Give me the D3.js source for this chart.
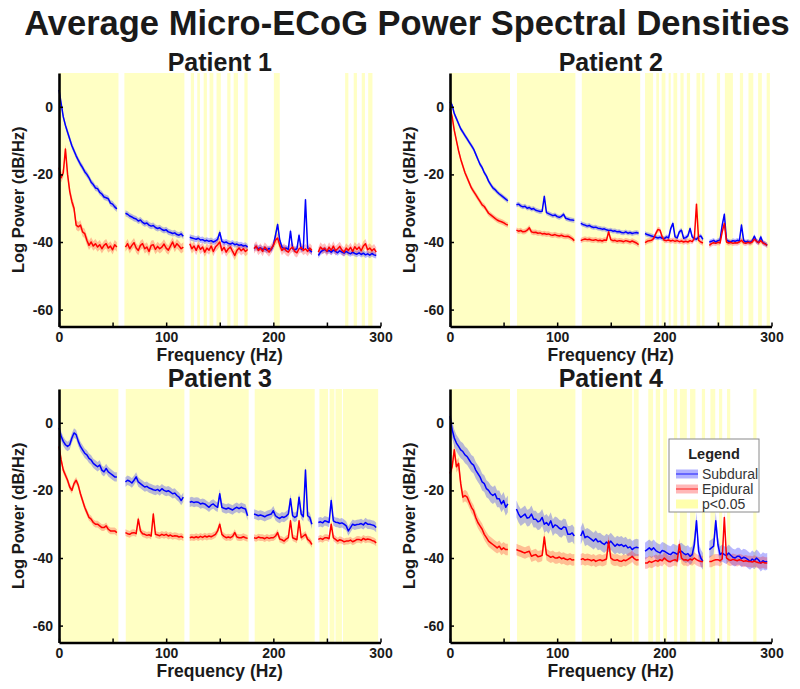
<!DOCTYPE html>
<html><head><meta charset="utf-8">
<script src="https://cdn.jsdelivr.net/npm/d3@7"></script>
<style>body{margin:0;background:#fff}svg{display:block;font-family:"Liberation Sans",Arial,sans-serif}</style>
</head><body><svg id="c" width="800" height="689"></svg>
<script>
// ---------------- DATA ----------------
const freqs = [0,2,4,6,8,10,12,14,16,18,20,22,24,26,28,30,32,34,36,38,40,42,44,46,48,50,52,54,56,58,
60,62,64,66,68,70,72,74,76,78,80,82,84,86,88,90,92,94,96,98,100,102,104,106,108,110,112,114,116,118,
120,122,124,126,128,130,132,134,136,138,140,142,144,146,148,150,152,154,156,158,160,162,164,166,168,170,172,174,176,178,
180,182,184,186,188,190,192,194,196,198,200,202,204,206,208,210,212,214,216,218,220,222,224,226,228,230,232,234,236,238,
240,242,244,246,248,250,252,254,256,258,260,262,264,266,268,270,272,274,276,278,280,282,284,286,288,290,292,294,296,298];

const titles = ["Patient 1","Patient 2","Patient 3","Patient 4"];

const sub1 = [5,1,-3,-5.5,-7.5,-9.5,-11.5,-13,-14.5,-15.8,-17,-18,-19.2,-20,-21,-22.3,-23,-24,-24.2,-25.3,-25.8,-26.7,-26.9,-27.2,-28.5,-28.8,-29.6,-30.2,
null,null,null,
-31.5,-31.8,-32.3,-32.6,-33,-33.2,-33.8,-33.5,-34.2,-34.6,-34.4,-35,-35.3,-35.1,-35.7,-36,-35.8,-36.3,-36.6,-36.4,-37,-37.2,-37.5,-37.3,-37.8,-38,-37.6,-38.3,
null,null,
-38.6,-38.8,-39,-39.2,-38.9,-39.4,-39.3,-39.7,-39.5,-39.8,-39.6,-40,-39.7,-39.2,-37.2,-39.8,-40.2,-40,-40.4,-40.6,-40.3,-40.8,-40.6,-41,-40.8,-41.2,-41,-41.5,
null,null,
-41.8,-41.5,-42,-41.7,-42.2,-42,-42.4,-41.9,-42.3,-41,-38,-34.8,-39.5,-41.5,-42,-41.8,-42.2,-36.8,-42,-42.3,-42,-38,-42.2,-42,-27.5,-41.8,-42.5,-43,
null,null,
-44,-43,-42.5,-42.2,-42.8,-42.5,-43,-42.4,-42.8,-43.2,-42.6,-43,-43.3,-42.8,-43.2,-43.5,-43,-43.4,-43.6,-43.2,-43.7,-43.3,-43.8,-43.5,-43.9,-43.4,-43.8,-44,
null];
const epi1 = [-18,-21,-19.5,-12.5,-20,-25,-28,-30,-35,-35.5,-35,-37,-37.5,-39.5,-41,-40,-41.2,-40.5,-41.5,-40.8,-42,-41,-40.5,-41.8,-41.2,-42.3,-40.8,-41.5,
null,null,null,
-41.5,-40.5,-42,-41,-40.2,-41.8,-42.5,-41,-40.5,-42,-41.5,-42.8,-41,-40.8,-42.2,-41.3,-42,-41.5,-40.6,-41.8,-42.4,-41.2,-40,-41.6,-40.5,-41.2,-42,-41.5,
null,null,
-40.5,-42,-41.2,-42.5,-41,-42.2,-41.5,-43,-41.8,-42.4,-41.2,-42.8,-41.5,-40.8,-40,-42.5,-41.6,-43,-42,-41.5,-42.8,-44,-42.5,-41.8,-42.6,-42,-42.8,-42.2,
null,null,
-42,-41.2,-42.5,-41.8,-42.8,-41.5,-42.2,-43,-42,-41,-39.5,-38.8,-41,-42.5,-41.8,-42.6,-43,-42,-41.5,-42.8,-43.2,-42,-41.6,-42.5,-42,-42.8,-41.8,-42.5,
null,null,
-43,-41.5,-42.2,-41.8,-42.8,-41.5,-42.5,-41.2,-42.6,-42,-41.3,-42.4,-43,-41.8,-42.5,-41.6,-42.8,-41.4,-42.2,-41.5,-42.6,-41.2,-40.5,-42.3,-41.8,-42.6,-42,-43,
null];

const sub2 = [1.5,0.5,-2,-3.5,-5,-6.5,-7.5,-8.5,-9.5,-10.5,-11.5,-12.5,-14,-15.5,-17,-18,-19.5,-20.5,-22,-23,-24,-24.5,-25.2,-25.8,-26.3,-26.8,-27.3,-27.8,
null,null,null,
-29,-28.8,-29.3,-29.6,-29.4,-30,-29.8,-30.3,-30.1,-30.6,-30.8,-31,-30.9,-26.5,-31.3,-31.6,-31.9,-32.2,-32,-32.5,-32.7,-32.4,-31.8,-33,-33.2,-33.4,-33.5,-33.6,
null,null,
-34.5,-34.8,-35,-35.3,-35.1,-35.5,-35.7,-35.6,-35.9,-36,-36.2,-36.1,-36.4,-36.6,-36.5,-36.8,-36.7,-37,-36.9,-37.2,-37.3,-37,-37.4,-37.2,-37.5,-37.3,-37.2,-37.4,
null,null,
-37.5,-37.8,-38,-38.2,-38.4,-38.6,-38.8,-38.6,-38.9,-39,-38.5,-38.8,-36,-34.5,-38.5,-38.8,-37,-36.5,-38.9,-38.7,-38.2,-36,-38.5,-39,-39.2,-38.5,-38.2,-39.2,
null,null,
-40,-39.8,-39.5,-40,-39.6,-39.4,-35,-31.8,-39.4,-39.8,-40,-39.6,-39.8,-39.5,-39.7,-35,-39.6,-40,-39.8,-40.1,-39.7,-38.3,-39.8,-40.2,-38.5,-40.2,-40.5,-41,
null];
const epi2 = [-0.5,-3,-7,-10,-13,-15.5,-17.5,-19.5,-21,-22.5,-24,-25,-26,-27,-28,-29,-29.5,-30.5,-31.5,-32,-32.5,-33,-33.5,-33.8,-34,-34.3,-34.7,-35,
null,null,null,
-36.5,-36.8,-36.6,-37,-36.9,-36.5,-35.8,-37,-37.2,-37.1,-37.4,-37.3,-37.6,-37.5,-37.7,-37.6,-37.9,-38,-37.8,-38.1,-38.2,-38,-38.3,-38.4,-38.3,-38.6,-39,-39.6,
null,null,
-39.6,-39.3,-39.1,-39.3,-39.2,-39.4,-39.5,-39.3,-39.6,-39.5,-39.7,-39.4,-39.5,-37,-39.3,-39.6,-39.5,-39.8,-39.6,-39.7,-39.9,-39.6,-39.8,-40,-39.7,-40,-40.3,-40.8,
null,null,
-40.2,-39.8,-39.6,-39.5,-39,-37.5,-36.3,-36.5,-38.5,-39.5,-39.6,-39.4,-39.7,-39.5,-39.8,-39.6,-39.9,-39.7,-40,-39.8,-40,-39.6,-39.9,-39,-28.8,-39.5,-40,-40.3,
null,null,
-41,-40.5,-40.2,-40.4,-40.1,-40.3,-37,-34.5,-40,-40.3,-40.1,-40.4,-40.2,-40.3,-40,-39.5,-40.2,-40.4,-40.1,-40.3,-40,-39.2,-39.8,-40.2,-39.6,-40.3,-40.6,-41,
null];

const sub3 = [-1.5,-4,-5.5,-6.5,-7,-6.5,-4.5,-3,-3.5,-5.5,-7,-8,-9,-9.5,-10.5,-11,-12,-12.5,-13,-12.5,-14,-14.5,-13.5,-14.5,-15,-15.5,-16,-16,
null,null,null,
-17.5,-17,-17.3,-17.8,-17,-16,-17.5,-18,-18.5,-19,-18.8,-19.3,-19.5,-19.8,-20,-19.7,-20.2,-19.5,-20,-20.3,-20.1,-20.5,-21,-20.8,-21.5,-22,-23,-22,
null,null,
-23.5,-23.3,-23.6,-23.4,-23.5,-24,-23.8,-24,-24.5,-25,-24.3,-24,-24.6,-25,-21,-25,-25.3,-25.5,-25.2,-25.5,-25.8,-25.3,-25,-25.4,-25,-25.3,-25.5,-27.5,
null,null,
-27,-27.2,-27.5,-27.3,-27.5,-27.8,-27.4,-27.2,-27,-26,-27.5,-28,-28.3,-27.8,-28,-27.6,-27,-22.5,-27.5,-28,-27.6,-22,-27,-27.8,-14,-27.5,-28,-30,
null,null,
-29.5,-29.3,-29.6,-29,-29.2,-29.5,-23,-29,-29.4,-29.5,-29.8,-29.6,-30,-30.5,-32,-31,-30,-30.3,-30.1,-30,-29.8,-30.2,-29.5,-30,-30,-30.2,-30.4,-31,
null];
const epi3 = [-7,-11,-14,-15.5,-17,-19,-20,-18,-17,-18.5,-21,-23,-25,-26.5,-28,-28.5,-29.5,-30,-30,-30.5,-31,-31,-30.5,-31.5,-32,-32,-32,-32.5,
null,null,null,
-32.5,-32.8,-33,-32.6,-32.5,-32.8,-28.5,-32,-32.8,-33,-33.3,-33.1,-33.5,-27,-33,-33.2,-33.4,-33,-33.3,-33,-33.5,-33.2,-33.6,-33.4,-33.5,-33.8,-33.6,-34,
null,null,
-34,-33.8,-34,-33.7,-34,-33.6,-33.9,-33.5,-33.8,-33.5,-33.7,-33.4,-33,-32,-30,-33,-33.6,-34,-33.8,-34,-33.6,-32.5,-33.8,-34,-34,-33.7,-34,-34.2,
null,null,
-34,-34.2,-33.8,-34,-34,-34.3,-33.9,-34.2,-34,-34,-33.5,-32.5,-34.4,-34.6,-35,-34.4,-34,-29,-34,-34.3,-34.6,-29,-34,-33.5,-33,-34.5,-35,-36,
null,null,
-34.5,-34.2,-34.5,-34,-34,-34.3,-30,-34,-34.5,-35,-34.6,-34.8,-35.2,-35,-35,-34.7,-35.2,-34.9,-34.5,-34.5,-34.8,-34.2,-34.6,-34.4,-34.5,-34.8,-35,-35.5,
null];

const sub4 = [2,-2,-4.5,-6,-7,-8,-8.5,-9.5,-10,-11,-12,-12.5,-14,-15,-16,-17.5,-18,-19.5,-20,-21,-21.5,-21,-22.5,-22.5,-24,-23,-25,-24,
null,null,null,
-25.5,-27,-28,-27.5,-27,-28.2,-28,-27,-28.5,-28.5,-29.3,-29,-28,-30,-29.5,-30.3,-29,-31,-30.2,-30.5,-31.2,-31.5,-30.8,-31,-33,-33,-32.6,-33.5,
null,null,
-33.5,-32,-34,-33.6,-34,-34.5,-35,-34.3,-35.2,-35,-35.6,-36,-35.3,-35.8,-35,-35.8,-36.5,-35.9,-36.3,-36,-36.6,-36.2,-37,-36.7,-37.5,-37,-36.8,-37,
null,null,
-38,-37.5,-37,-37.6,-37,-37.8,-38.2,-38.5,-37.8,-38,-38.4,-38.8,-39,-38.3,-38.5,-38.9,-38.2,-38,-38.6,-39,-38.7,-39.5,-39,-36,-29,-38,-40,-41,
null,null,
-37.5,-37,-36.5,-29,-36,-39,-38.5,-39,-39.3,-38.5,-39.2,-39.8,-40,-39.5,-39.5,-40.2,-39.8,-40,-40.5,-41,-40.3,-40.8,-40,-40.6,-41.5,-40.8,-41.2,-41,
null];
const epi4 = [-15,-13,-8,-13,-12,-18,-22,-21.5,-22,-23.5,-25,-26,-28,-29.5,-30.5,-31.5,-33,-34,-35,-35.5,-36,-36.5,-37,-36.5,-37.5,-37,-37.5,-37.5,
null,null,null,
-37.5,-37.8,-38,-38.3,-38.5,-38.2,-38,-39.5,-39.2,-39,-39.6,-39.5,-39.2,-33.8,-39,-39.4,-39.8,-39.5,-40,-40,-39.7,-40.2,-40,-40.4,-40.5,-40.2,-40.6,-40.5,
null,null,
-40.5,-40.2,-40.6,-40.4,-40.5,-40.8,-40.5,-41,-40.7,-40.5,-40.8,-40.6,-40.3,-35,-40,-40.5,-40.7,-40.5,-40.9,-41,-40.6,-40.8,-40.4,-40,-39.5,-40.2,-40.6,-40.5,
null,null,
-41.5,-41.5,-41,-41.3,-41,-40.7,-41,-40.5,-40.8,-40,-40.6,-41,-41,-40.7,-40.5,-40.9,-36,-40,-40.6,-40.5,-40.8,-40.3,-40.6,-40,-40.5,-40.8,-41,-41,
null,null,
-41,-41,-40.7,-40.5,-40.5,-40.8,-40.3,-28,-40,-40.5,-40.7,-40.4,-40.6,-40.8,-40.5,-40.7,-41,-40.8,-41,-41,-41.2,-40.9,-41.2,-41.4,-41.5,-41.2,-41.5,-41.5,
null];

// confidence half-widths (dB)
const ciSub = [0.9, 0.7, 1.4, 2.5];
const ciEpi = [1.4, 0.8, 1.0, 1.7];

// p<0.05 frequency intervals (Hz)
const sig1 = [[0,55.5],[61,117],[123,126],[129,131.5],[135,138],[140.5,144],[147,151],[157,160],[163,167],[173,176],[200.5,206],[267,270],[275,278],[282.5,285.5],[288.5,292.5]];
const sig2 = [[0,56],[62.5,117],[123,177.5],[182,189.5],[192.5,195],[197.5,201],[204,206],[208.5,212],[215,218],[221,224],[230,233.5],[235,237.5],[249,252],[256.5,264],[270.5,273.5],[278.5,283],[287.5,291],[295.5,298.5]];
const sig3 = [[0,55.4],[62.3,117],[121.8,177],[182.6,238.6],[243,251],[252.5,257],[258,264],[265,297.8]];
const sig4 = [[0,56],[62.5,117],[123,170],[171.5,176],[185,189.5],[192,196],[199,202.5],[209,212],[214.5,221],[224,229],[235,238],[243,247.5],[251,254],[258.5,261.5],[283,286]];

const xTicks = [0,50,100,150,200,250,300];
const xTickLabels = [0,100,200,300];
const yTicks = [0,-20,-40,-60];
const legendLabels = ["Subdural","Epidural","p<0.05"];
const mainTitle = "Average Micro-ECoG Power Spectral Densities";

// ---------------- DRAW ----------------
const subs = [sub1,sub2,sub3,sub4];
const epis = [epi1,epi2,epi3,epi4];
const sigs = [sig1,sig2,sig3,sig4];
const boxes = [
  {x0:59,  x1:380.5, y0:73,  y1:326.5},
  {x0:450, x1:771.5, y0:73,  y1:326.5},
  {x0:59,  x1:380.5, y0:389, y1:642.5},
  {x0:450, x1:771.5, y0:389, y1:642.5}
];
const YEL = "#ffffc4";
const svg = d3.select("#c");

svg.append("text").attr("x",407).attr("y",35).attr("text-anchor","middle")
  .attr("font-size",34.5).attr("font-weight","bold").attr("fill","#1a1a1a").text(mainTitle);

boxes.forEach((b,k)=>{
  const x = d3.scaleLinear().domain([0,300]).range([b.x0,b.x1]);
  const y = d3.scaleLinear().domain([-65,10]).range([b.y1,b.y0]);
  const g = svg.append("g");
  // significance shading
  g.selectAll("rect.sig").data(sigs[k]).join("rect").attr("class","sig")
    .attr("x",d=>x(d[0])).attr("width",d=>x(d[1])-x(d[0]))
    .attr("y",b.y0).attr("height",b.y1-b.y0).attr("fill",YEL);
  const pts = (arr)=>freqs.map((f,i)=>({f:f,v:arr[i]}));
  const drawSeries = (arr, hw, col, bandOpacity)=>{
    const p = pts(arr);
    const area = d3.area().defined(d=>d.v!=null)
      .x(d=>x(d.f)).y0(d=>y(d.v-hw)).y1(d=>y(d.v+hw));
    g.append("path").attr("d",area(p)).attr("fill",col).attr("fill-opacity",bandOpacity);
    const line = d3.line().defined(d=>d.v!=null).x(d=>x(d.f)).y(d=>y(d.v));
    return ()=>g.append("path").attr("d",line(p)).attr("fill","none").attr("stroke",col)
      .attr("stroke-width",1.5).attr("stroke-linejoin","round");
  };
  const lb = drawSeries(subs[k], ciSub[k], "#0000ff", 0.28);
  const lr = drawSeries(epis[k], ciEpi[k], "#ff0000", 0.25);
  lb(); lr();
  // axes
  const xa = d3.axisBottom(x).tickValues(xTicks).tickSize(-4).tickSizeOuter(0).tickPadding(6)
    .tickFormat(d=>xTickLabels.includes(d)?d:"");
  const ya = d3.axisLeft(y).tickValues(yTicks).tickSize(-4).tickSizeOuter(0).tickPadding(6)
    .tickFormat(d=>d);
  const gx = svg.append("g").attr("transform",`translate(0,${b.y1})`).call(xa);
  const gy = svg.append("g").attr("transform",`translate(${b.x0},0)`).call(ya);
  [gx,gy].forEach(a=>{
    a.select(".domain").attr("stroke","#000").attr("stroke-width",2.6);
    a.selectAll(".tick line").attr("stroke","#000").attr("stroke-width",1.5);
    a.selectAll("text").attr("font-size",14).attr("font-weight","bold").attr("fill","#1a1a1a")
      .attr("font-family",'"Liberation Sans",Arial,sans-serif');
  });
  // titles & labels
  const cx = (b.x0+b.x1)/2;
  svg.append("text").attr("x",cx).attr("y",b.y0-2).attr("text-anchor","middle")
    .attr("font-size",25).attr("font-weight","bold").attr("fill","#1a1a1a").text(titles[k]);
  svg.append("text").attr("x",cx).attr("y",b.y1+34).attr("text-anchor","middle")
    .attr("font-size",17.5).attr("font-weight","bold").attr("fill","#1a1a1a").text("Frequency (Hz)");
  svg.append("text").attr("transform",`translate(${b.x0-35},${(b.y0+b.y1)/2}) rotate(-90)`)
    .attr("text-anchor","middle").attr("font-size",16.5).attr("font-weight","bold").attr("fill","#1a1a1a")
    .text("Log Power (dB/Hz)");
});

// legend in panel 4
const lg = svg.append("g").attr("transform","translate(669,439)");
lg.append("rect").attr("width",90).attr("height",73).attr("fill","#fff").attr("stroke","#8a8a8a").attr("stroke-width",1);
lg.append("text").attr("x",45).attr("y",20).attr("text-anchor","middle").attr("font-size",14.5)
  .attr("font-weight","bold").attr("fill","#222").text("Legend");
const legCols = [["#0000ff",0.3,true],["#ff0000",0.28,true],["#ffff99",0.8,false]];
legendLabels.forEach((t,i)=>{
  const cy = 35 + i*15;
  const [c,op,hasLine] = legCols[i];
  lg.append("rect").attr("x",7).attr("y",cy-4.5).attr("width",22).attr("height",9)
    .attr("fill",c).attr("fill-opacity",op);
  if(hasLine) lg.append("line").attr("x1",7).attr("x2",29).attr("y1",cy).attr("y2",cy)
    .attr("stroke",c).attr("stroke-width",1.2).attr("stroke-opacity",0.7);
  lg.append("text").attr("x",33).attr("y",cy+5).attr("font-size",14).attr("fill","#333").text(t);
});
</script></body></html>
